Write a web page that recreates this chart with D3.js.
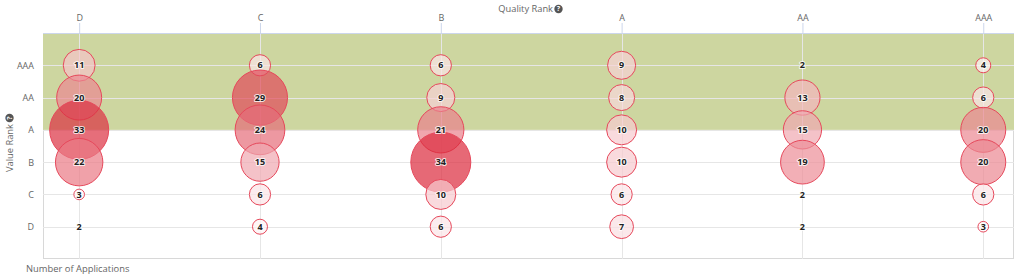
<!DOCTYPE html>
<html><head><meta charset="utf-8">
<script src="https://cdn.jsdelivr.net/npm/d3@7"></script>
<style>body{margin:0;background:#fff}svg{display:block;font-family:"Open Sans",sans-serif}</style>
</head><body><svg id="c" width="1024" height="278"></svg>
<script>
const qualityRanks = ["D","C","B","A","AA","AAA"];
const valueRanks = ["D","C","B","A","AA","AAA"];
// counts per quality column, listed for value ranks AAA, AA, A, B, C, D
const colD   = [11,20,33,22,3,2];
const colC   = [6,29,24,15,6,4];
const colB   = [6,9,21,34,10,6];
const colA   = [9,8,10,10,6,7];
const colAA  = [2,13,15,19,2,2];
const colAAA = [4,6,20,20,6,3];
const rowOrder = ["AAA","AA","A","B","C","D"];
const columns = [colD,colC,colB,colA,colAA,colAAA];
const bandFrom = "A";

const points = [];
columns.forEach((col,ci)=>col.forEach((v,ri)=>points.push({q:qualityRanks[ci], r:rowOrder[ri], v})));

const svg = d3.select("#c");
const L=43, R=1014, T=33, B=259;
const x = d3.scaleLinear().domain([-0.2,5.17]).range([L,R]);
const y = d3.scaleLinear().domain([-1,6]).range([B,T]);
const xi = q=>qualityRanks.indexOf(q), yi = r=>valueRanks.indexOf(r);
const vmax = d3.max(points,d=>d.v), vmin = d3.min(points,d=>d.v);
// area-proportional sizing relative to the minimum value
const pos = d3.scaleLinear().domain([vmin,vmax]).range([0,1]);
const rOf = v => 30*Math.sqrt(pos(v));
const colorOf = d3.scaleLinear().domain([vmin,vmax]).range(["#ffffff","#db293c"]);

// plot border
svg.append("rect").attr("x",L+0.5).attr("y",T+0.5).attr("width",R-L-1).attr("height",B-T-1)
  .attr("fill","#fff").attr("stroke","#d8d8d8");
// band
svg.append("rect").attr("x",L).attr("y",T).attr("width",R-L).attr("height",y(yi(bandFrom))-T)
  .attr("fill","#cdd6a0");
// gridlines
const g = svg.append("g");
valueRanks.forEach((r,i)=>g.append("line").attr("x1",L).attr("x2",R).attr("y1",Math.round(y(i))+0.5).attr("y2",Math.round(y(i))+0.5).attr("stroke","#e6e6e6"));
qualityRanks.forEach((q,i)=>g.append("line").attr("y1",T).attr("y2",B).attr("x1",Math.round(x(i))+0.5).attr("x2",Math.round(x(i))+0.5).attr("stroke","#e6e6e6"));
// top axis
svg.append("line").attr("x1",L).attr("x2",R).attr("y1",T+0.5).attr("y2",T+0.5).attr("stroke","#ccd6eb");
const xAxis = d3.axisTop(x).tickValues(d3.range(qualityRanks.length)).tickFormat(i=>qualityRanks[i]).tickSize(10).tickPadding(2);
const xa = svg.append("g").attr("transform",`translate(0,${T})`).call(xAxis);
xa.select(".domain").remove();
xa.selectAll("line").attr("stroke","#ccd6eb");
xa.selectAll("text").attr("fill","#666").attr("font-size",9).attr("font-family","Open Sans");
// left axis
const yAxis = d3.axisLeft(y).tickValues(d3.range(valueRanks.length)).tickFormat(i=>valueRanks[i]).tickSize(0).tickPadding(9);
const ya = svg.append("g").attr("transform",`translate(${L},0)`).call(yAxis);
ya.select(".domain").remove();
ya.selectAll("text").attr("fill","#666").attr("font-size",9).attr("font-family","Open Sans");

// titles
function helpIcon(cx,cy,rot){
  const gi = svg.append("g").attr("transform",`translate(${cx},${cy}) rotate(${rot||0})`);
  gi.append("circle").attr("r",4.2).attr("fill","#555");
  gi.append("text").attr("text-anchor","middle").attr("dy","0.35em").attr("fill","#fff").attr("font-size",7).attr("font-weight","bold").text("?");
  return gi;
}
svg.append("text").attr("x",553).attr("y",12).attr("text-anchor","end").attr("fill","#666").attr("font-size",9.3).text("Quality Rank");
helpIcon(558.5,9);
svg.append("text").attr("transform","translate(13,172) rotate(-90)").attr("text-anchor","start").attr("fill","#666").attr("font-size",9.3).text("Value Rank");
helpIcon(9.5,118,-90);
svg.append("text").attr("x",26).attr("y",272).attr("fill","#666").attr("font-size",9.4).text("Number of Applications");

// bubbles
const bg = svg.append("g");
bg.selectAll("circle").data(points.filter(d=>rOf(d.v)>0)).join("circle")
  .attr("cx",d=>x(xi(d.q))).attr("cy",d=>y(yi(d.r))).attr("r",d=>rOf(d.v))
  .attr("fill",d=>colorOf(d.v)).attr("fill-opacity",0.7).attr("stroke","#e6485b").attr("stroke-width",1);
// labels
const lg = svg.append("g").attr("font-size",9).attr("font-weight","bold").attr("text-anchor","middle");
lg.selectAll("text.h").data(points).join("text").attr("class","h")
  .attr("x",d=>x(xi(d.q))).attr("y",d=>y(yi(d.r))).attr("dy","0.35em")
  .attr("fill","none").attr("stroke","#fff").attr("stroke-width",2).attr("stroke-linejoin","round").attr("stroke-opacity",0.8).text(d=>d.v);
lg.selectAll("text.t").data(points).join("text").attr("class","t")
  .attr("x",d=>x(xi(d.q))).attr("y",d=>y(yi(d.r))).attr("dy","0.35em")
  .attr("fill","#222").text(d=>d.v);
</script></body></html>
